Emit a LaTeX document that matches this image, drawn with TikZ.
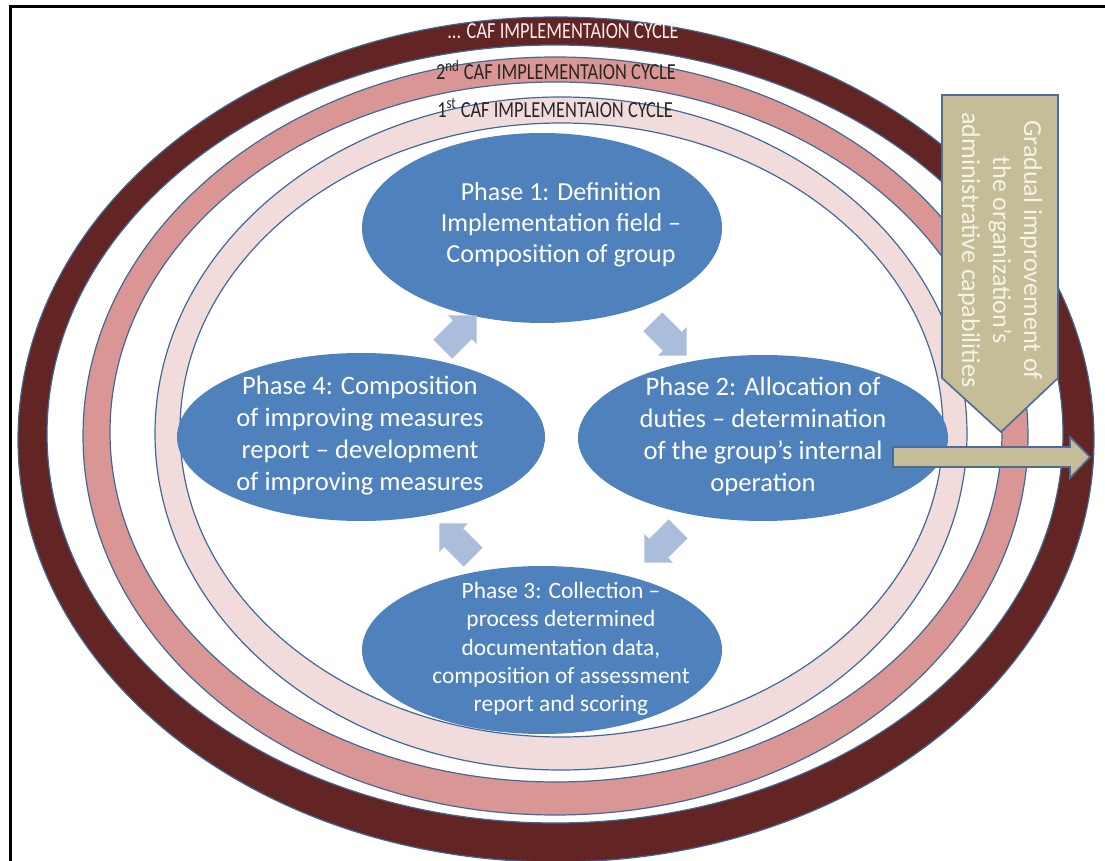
\documentclass[tikz,border=0pt]{standalone}
\usepackage{fontspec}
\usepackage{graphicx}
\setmainfont{Carlito}
\usetikzlibrary{shapes.geometric,shapes.arrows}

\definecolor{ringdark}{HTML}{632523}
\definecolor{ringmid}{HTML}{D99694}
\definecolor{ringlight}{HTML}{F2DCDB}
\definecolor{ringline}{HTML}{41689A}
\definecolor{phaseblue}{HTML}{4F81BD}
\definecolor{flowblue}{HTML}{AABEDC}
\definecolor{tanfill}{HTML}{C4BD97}
\definecolor{tanline}{HTML}{4A6C96}
\definecolor{tantext}{HTML}{F6F3E8}

\tikzset{
  ringedge/.style={draw=ringline, line width=0.6pt},
  phase/.style={ellipse, fill=phaseblue, inner sep=0pt},
  phasetext/.style={text=white, align=center, inner sep=0pt},
  flowarrow/.style={single arrow, fill=flowblue, inner xsep=0pt, inner ysep=6.5pt,
    minimum height=24pt, single arrow head extend=3.5pt},
  ringlabel/.style={inner sep=0pt, font=\fontsize{11.5}{12}\selectfont},
  bigarrow/.style={fill=tanfill, draw=tanline, line width=0.8pt}
}

\begin{document}
\begin{tikzpicture}[x=0.5pt,y=-0.5pt]
\useasboundingbox (0,0) rectangle (1105,861);

% outer frame (left and top rules)
\draw[line width=1.5pt] (10,861) -- (10,7) -- (1105,7);

% three implementation cycles as rings
\fill[ringdark, even odd rule]
  (556,439.5) ellipse [x radius=269pt, y radius=211.25pt]
  (555,434) ellipse [x radius=254pt, y radius=194.5pt];
\draw[ringedge] (556,439.5) ellipse [x radius=269pt, y radius=211.25pt];
\draw[ringedge] (555,434) ellipse [x radius=254pt, y radius=194.5pt];

\fill[ringmid, even odd rule]
  (555.5,436) ellipse [x radius=236.25pt, y radius=189.5pt]
  (556,432) ellipse [x radius=223pt, y radius=175pt];
\draw[ringedge] (555.5,436) ellipse [x radius=236.25pt, y radius=189.5pt];
\draw[ringedge] (556,432) ellipse [x radius=223pt, y radius=175pt];

\fill[ringlight, even odd rule]
  (561,433.5) ellipse [x radius=203pt, y radius=168.25pt]
  (561.5,430) ellipse [x radius=190.75pt, y radius=153.5pt];
\draw[ringedge] (561,433.5) ellipse [x radius=203pt, y radius=168.25pt];
\draw[ringedge] (561.5,430) ellipse [x radius=190.75pt, y radius=153.5pt];

% cycle labels
\node[ringlabel, text=ringlight!50!white] (cyc3) at (563,31)
  {\scalebox{0.8}[1]{... CAF IMPLEMENTAION CYCLE}};
\node[ringlabel, text=black!85] (cyc2) at (556,70)
  {\scalebox{0.8}[1]{2\textsuperscript{nd} CAF IMPLEMENTAION CYCLE}};
\node[ringlabel, text=black!85] (cyc1) at (555,108)
  {\scalebox{0.8}[1]{1\textsuperscript{st} CAF IMPLEMENTAION CYCLE}};

% the four phases
\node[phase, minimum width=180pt, minimum height=95pt] (p1) at (542,228) {};
\node[phase, minimum width=185pt, minimum height=83pt] (p2) at (763,438) {};
\node[phase, minimum width=180pt, minimum height=84pt] (p3) at (542,650) {};
\node[phase, minimum width=184pt, minimum height=84pt] (p4) at (361,437) {};

\node[phasetext, font=\fontsize{13}{15.5}\selectfont] (t1) at (561,225)
  {Phase 1: Definition\\Implementation field --\\Composition of group};
\node[phasetext, font=\fontsize{13.3}{16}\selectfont] (t2) at (763,436)
  {Phase 2: Allocation of\\duties -- determination\\of the group's internal\\operation};
\node[phasetext, font=\fontsize{11.7}{14.2}\selectfont] (t3) at (561,649)
  {Phase 3: Collection --\\process determined\\documentation data,\\composition of assessment\\report and scoring};
\node[phasetext, font=\fontsize{13.3}{16}\selectfont] (t4) at (360,436)
  {Phase 4: Composition\\of improving measures\\report -- development\\of improving measures};

% flow between phases
\node[flowarrow, rotate=-45] (a12) at (665,334) {};
\node[flowarrow, rotate=-135] (a23) at (666,541) {};
\node[flowarrow, rotate=135] (a34) at (461,545) {};
\node[flowarrow, rotate=45] (a41) at (455,337) {};

% gradual improvement arrows
\draw[bigarrow] (942,95) -- (1058,95) -- (1058,378) -- (1001,432) -- (942,378) -- cycle;
\node[rotate=-90, text=tantext, align=center, inner sep=0pt,
  font=\fontsize{13}{15.5}\selectfont] (grad) at (1000,250)
  {Gradual improvement of\\the organization's\\administrative capabilities};
\draw[bigarrow] (893,447) -- (1070,447) -- (1070,437) -- (1090,457)
  -- (1070,478) -- (1070,467) -- (893,467) -- cycle;
\end{tikzpicture}
\end{document}
